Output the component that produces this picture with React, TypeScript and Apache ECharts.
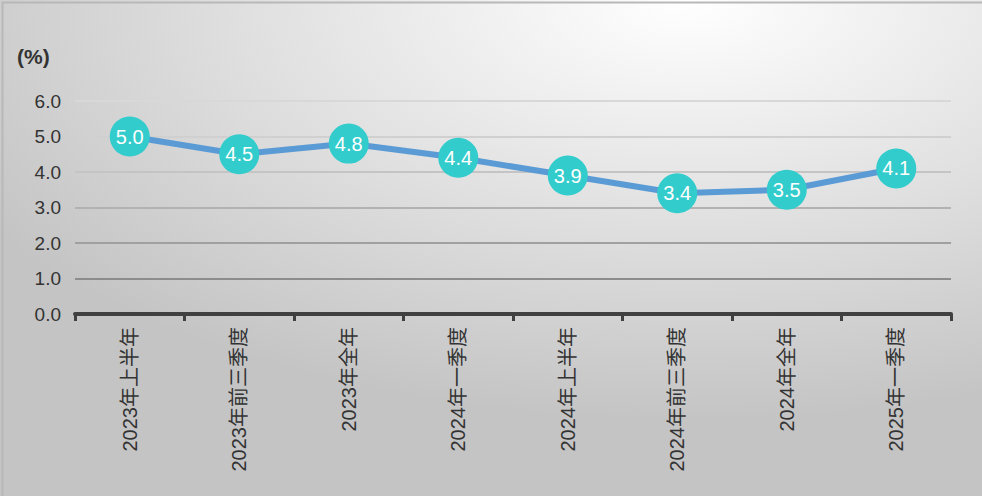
import React, { useEffect, useRef } from 'react';
import * as echarts from 'echarts';

const categories = [
  '2023年上半年',
  '2023年前三季度',
  '2023年全年',
  '2024年一季度',
  '2024年上半年',
  '2024年前三季度',
  '2024年全年',
  '2025年一季度',
];
const values = [5.0, 4.5, 4.8, 4.4, 3.9, 3.4, 3.5, 4.1];
const unitLabel = '(%)';

const FONT = "'Liberation Sans', Arial, 'Noto Sans CJK SC', sans-serif";

const App: React.FC = () => {
  const chartRef = useRef<HTMLDivElement>(null);

  useEffect(() => {
    document.body.style.margin = '0';
    const chart = echarts.init(chartRef.current!, null, { renderer: 'svg' });

    const option = {
      animation: false,
      backgroundColor: {
        type: 'radial',
        x: 0.7,
        y: 0,
        r: 0.85,
        colorStops: [
          { offset: 0, color: '#ffffff' },
          { offset: 1, color: '#c4c4c4' },
        ],
      },
      textStyle: { fontFamily: FONT },
      graphic: [
        {
          type: 'rect',
          left: 0,
          top: 0,
          shape: { width: 981, height: 495 },
          style: { fill: 'none', stroke: '#b8b8b8', lineWidth: 2 },
          silent: true,
        },
        {
          type: 'text',
          left: 17,
          top: 46,
          style: {
            text: unitLabel,
            font: `bold 21px ${FONT}`,
            fill: '#333',
          },
        },
      ],
      grid: { left: 75, right: 31, top: 101, bottom: 182 },
      xAxis: {
        type: 'category',
        data: categories,
        axisLine: { show: true, lineStyle: { color: '#404040', width: 4 } },
        axisTick: { show: true, length: 7, lineStyle: { color: '#404040', width: 3 } },
        axisLabel: {
          rotate: 90,
          margin: 13,
          color: '#333',
          fontSize: 20,
          fontFamily: FONT,
        },
      },
      yAxis: {
        type: 'value',
        min: 0,
        max: 6,
        interval: 1,
        axisLine: { show: false },
        axisTick: { show: false },
        axisLabel: {
          margin: 14,
          color: '#333',
          fontSize: 19,
          fontFamily: FONT,
          formatter: (v: number) => v.toFixed(1),
        },
        splitLine: {
          lineStyle: {
            width: 2,
            color: ['#404040', '#8c8c8c', '#a0a0a0', '#b2b2b2', '#c4c4c4', '#d0d0d0', '#d8d8d8'],
          },
        },
      },
      series: [
        {
          type: 'line',
          data: values,
          symbol: 'circle',
          symbolSize: 40,
          itemStyle: { color: '#33cccc' },
          lineStyle: { color: '#5b9bd5', width: 6 },
          label: {
            show: true,
            position: 'inside',
            color: '#fff',
            fontSize: 20,
            fontFamily: FONT,
            formatter: (p: any) => Number(p.value).toFixed(1),
          },
        },
      ],
    };

    chart.setOption(option);

    return () => {
      chart.dispose();
    };
  }, []);

  return <div ref={chartRef} style={{ width: 982, height: 496 }} />;
};

export default App;
